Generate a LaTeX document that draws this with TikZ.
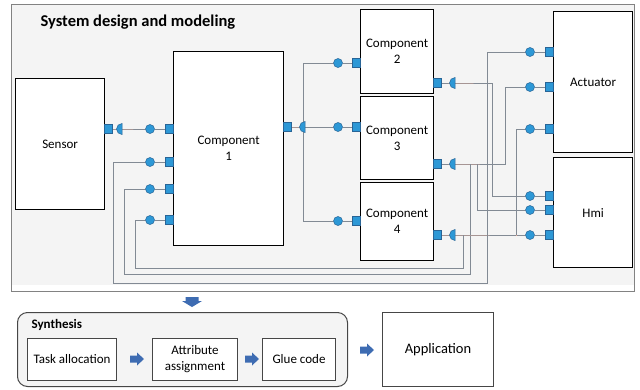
\documentclass[tikz,border=0pt]{standalone}
\usepackage{fontspec}
\setmainfont{Carlito}
\definecolor{portblue}{RGB}{45,152,214}
\definecolor{portedge}{RGB}{40,100,150}
\definecolor{salmon}{RGB}{236,170,148}
\definecolor{wiregray}{RGB}{130,138,148}
\definecolor{panel}{RGB}{244,244,244}
\definecolor{framegray}{RGB}{130,130,130}
\definecolor{arrowblue}{RGB}{62,108,178}
\definecolor{boxgray}{RGB}{70,70,70}
\pgfdeclarelayer{back}
\pgfdeclarelayer{wires}
\pgfsetlayers{back,wires,main}
\tikzset{
  blk/.style={draw=black, line width=1.3, fill=white, anchor=north west,
    align=center, inner sep=0, font=\fontsize{13}{16}\selectfont},
  stepbox/.style={draw=boxgray, line width=1, fill=white, anchor=north west,
    align=center, inner sep=0, font=\fontsize{13}{16}\selectfont},
  psq/.style={rectangle, minimum width=8, minimum height=9, inner sep=0,
    fill=portblue, draw=portedge, line width=0.5},
  pcirc/.style={circle, minimum size=9, inner sep=0,
    fill=portblue, draw=portedge, line width=0.5},
  wire/.style={draw=wiregray, line width=0.6,
    preaction={draw=salmon, line width=0.9,
      transform canvas={xshift=0.8pt, yshift=-0.8pt}}},
  rarrow/.pic={\fill[arrowblue] (-7,-3.5) -- (0,-3.5) -- (0,-6.5) -- (7,0)
    -- (0,6.5) -- (0,3.5) -- (-7,3.5) -- cycle;},
  darrow/.pic={\fill[arrowblue] (-6.5,-5) -- (6.5,-5) -- (6.5,-1) -- (10,-1)
    -- (0,5) -- (-10,-1) -- (-6.5,-1) -- cycle;}
}
% required port: half disc, flat side at the coordinate
\newcommand{\halfport}[1]{\filldraw[fill=portblue, draw=portedge, line width=0.5]
  (#1) ++(0,5.5) arc[start angle=90, end angle=270, radius=5.5] -- cycle;}
\begin{document}
\begin{tikzpicture}[x=1pt,y=-1pt]
\useasboundingbox (0,0) rectangle (640,389);

% design panel
\begin{pgfonlayer}{back}
  \fill[panel] (11,4) rectangle (634,285);
  \draw[framegray, line width=1] (11,4) rectangle (634,291);
\end{pgfonlayer}
\node[anchor=west, font=\bfseries\fontsize{16.5}{20}\selectfont] (title) at (37,22)
  {System design and modeling};

% components
\node[blk, minimum width=89, minimum height=131] (sensor) at (15,78) {Sensor};
\node[blk, minimum width=110, minimum height=194] (comp1) at (173,51) {Component\\1};
\node[blk, minimum width=73, minimum height=84] (comp2) at (360,9) {Component\\2};
\node[blk, minimum width=73, minimum height=83] (comp3) at (360,96) {Component\\3};
\node[blk, minimum width=73, minimum height=78] (comp4) at (360,182) {Component\\4};
\node[blk, minimum width=79, minimum height=141] (act) at (553,11) {Actuator};
\node[blk, minimum width=79, minimum height=110] (hmi) at (553,157) {Hmi};

% ports
\node[psq] (senO) at (108,129) {};
\coordinate (senR) at (122,129);
\foreach \n/\y in {A/129,B/162,C/189,D/220}{
  \node[pcirc] (c1p\n) at (150,\y) {};
  \node[psq] (c1i\n) at (169,\y) {};
}
\node[psq] (c1o) at (287,127) {};
\coordinate (c1r) at (305,127);
\coordinate (trunk) at (303,127);
\foreach \k/\y in {2/63,3/127,4/221}{
  \node[pcirc] (c\k p) at (338,\y) {};
  \node[psq] (c\k i) at (356,\y) {};
}
\foreach \k/\y in {2/83,3/164,4/235}{
  \node[psq] (c\k o) at (437,\y) {};
  \coordinate (c\k r) at (455,\y);
}
\foreach \k/\y in {1/52,2/87,3/129}{
  \node[pcirc] (a\k p) at (530,\y) {};
  \node[psq] (a\k i) at (549,\y) {};
}
\foreach \k/\y in {1/196,2/210,3/235}{
  \node[pcirc] (h\k p) at (530,\y) {};
  \node[psq] (h\k i) at (549,\y) {};
}
\coordinate (j3a) at (470,164);
\coordinate (j3b) at (477,164);
\coordinate (j4a) at (463,235);
\coordinate (j4b) at (516,235);

\foreach \p in {senR,c1r,c2r,c3r,c4r}{\halfport{\p}}

% connectors
\begin{pgfonlayer}{wires}
  \draw[wire] (senO) -- (senR) -- (c1pA) -- (c1iA);
  \draw[wire] (c1o) -- (c1r) -- (trunk);
  \draw[wire] (c2i) -- (c2p) -- (303,63) -- (303,221) -- (c4p) -- (c4i);
  \draw[wire] (trunk) -- (c3p) -- (c3i);
  \draw[wire] (c2o) -- (c2r) -- (492,83) -- (492,196) -- (h1p) -- (h1i);
  \draw[wire] (c3o) -- (c3r) -- (505,164) -- (505,87) -- (a2p) -- (a2i);
  \draw[wire] (j3b) -- (477,210) -- (h2p) -- (h2i);
  \draw[wire] (j3a) -- (470,274) -- (124,274) -- (124,189) -- (c1pC) -- (c1iC);
  \draw[wire] (c4o) -- (c4r) -- (h3p) -- (h3i);
  \draw[wire] (j4b) -- (516,129) -- (a3p) -- (a3i);
  \draw[wire] (j4a) -- (463,268) -- (135,268) -- (135,220) -- (c1pD) -- (c1iD);
  \draw[wire] (a1i) -- (a1p) -- (487,52) -- (487,283) -- (113,283) -- (113,162)
    -- (c1pB) -- (c1iB);
\end{pgfonlayer}

% synthesis flow
\pic at (192,302) {darrow};
\node[draw=boxgray, line width=1, fill=panel, rounded corners=10, anchor=north west,
  minimum width=330, minimum height=74, inner sep=0] (synth) at (17,312) {};
\node[anchor=west, font=\bfseries\fontsize{13}{16}\selectfont] (synthlbl) at (28,325) {Synthesis};
\node[stepbox, minimum width=89, minimum height=42] (task) at (27,338) {Task allocation};
\node[stepbox, minimum width=85, minimum height=42] (attr) at (152,338) {Attribute\\assignment};
\node[stepbox, minimum width=73, minimum height=42] (glue) at (262,338) {Glue code};
\node[stepbox, minimum width=111, minimum height=74,
  font=\fontsize{14.5}{17}\selectfont] (app) at (382,312) {Application};
\pic at (137,359) {rarrow};
\pic at (252,359) {rarrow};
\pic at (367,350) {rarrow};
\end{tikzpicture}
\end{document}
